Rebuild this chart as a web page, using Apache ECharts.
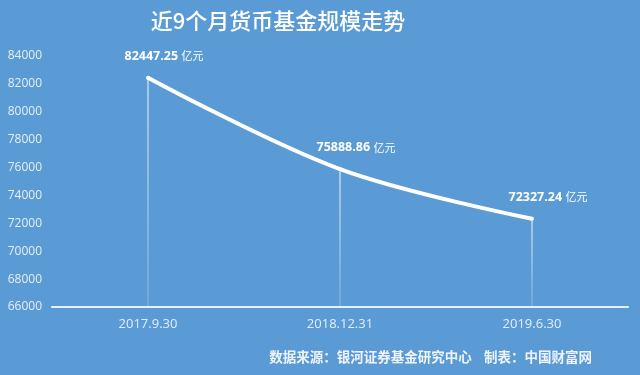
<!DOCTYPE html>
<html><head><meta charset="utf-8">
<script src="https://cdn.jsdelivr.net/npm/echarts@6/dist/echarts.min.js"></script>
<style>html,body{margin:0;padding:0;background:#5b9bd5}#c{width:640px;height:375px}</style>
</head><body><div id="c"></div>
<script>
const categories = ['2017.9.30', '2018.12.31', '2019.6.30'];
const values = [82447.25, 75888.86, 72327.24];
const yTicks = [66000, 84000, 2000]; // min, max, interval
const unit = '亿元';
const titleText = '近9个月货币基金规模走势';
const footerText = '数据来源：银河证券基金研究中心    制表：中国财富网';

const chart = echarts.init(document.getElementById('c'));
chart.setOption({
  backgroundColor: '#5b9bd5',
  animation: false,
  title: {
    text: titleText, left: 273, top: 5, textAlign: 'center',
    textStyle: {color: '#ffffff', fontSize: 22, fontWeight: 500, fontFamily: 'Noto Sans CJK SC'}
  },
  graphic: [{
    type: 'text', right: 48, top: 350,
    style: {text: footerText, fill: '#eef4fa', font: 'bold 13.5px "Noto Sans CJK SC"'}
  }],
  grid: {left: 52, right: 12, top: 56, bottom: 68},
  xAxis: {
    type: 'category', data: categories, boundaryGap: true,
    axisLine: {lineStyle: {color: '#e6f0fa', width: 2}},
    axisTick: {show: false},
    axisLabel: {color: '#e4eef8', fontSize: 13, margin: 11, fontFamily: 'Open Sans'}
  },
  yAxis: {
    type: 'value', min: yTicks[0], max: yTicks[1], interval: yTicks[2],
    axisLine: {show: false}, axisTick: {show: false}, splitLine: {show: false},
    axisLabel: {color: '#e4eef8', fontSize: 12, margin: 10, fontFamily: 'Open Sans',
      formatter: v => String(v)}
  },
  series: [
    {
      type: 'bar', data: values, barWidth: 1, silent: true,
      itemStyle: {color: new echarts.graphic.LinearGradient(0,0,0,1,[
        {offset: 0, color: 'rgba(255,255,255,0.95)'},
        {offset: 1, color: 'rgba(255,255,255,0.25)'}])}
    },
    {
      type: 'line', data: values, smooth: 0.35, symbol: 'circle', symbolSize: 4, showSymbol: true,
      itemStyle: {color: '#ffffff'},
      lineStyle: {color: '#ffffff', width: 4},
      label: {
        show: true, position: 'top', offset: [16, -8],
        formatter: p => '{n|' + p.value.toFixed(2) + '} {u|' + unit + '}',
        rich: {
          n: {color: '#ffffff', fontSize: 12.5, fontWeight: 'bold', fontFamily: 'Open Sans'},
          u: {color: '#ffffff', fontSize: 11, fontFamily: 'Noto Sans CJK SC'}
        }
      }
    }
  ]
});
</script></body></html>
